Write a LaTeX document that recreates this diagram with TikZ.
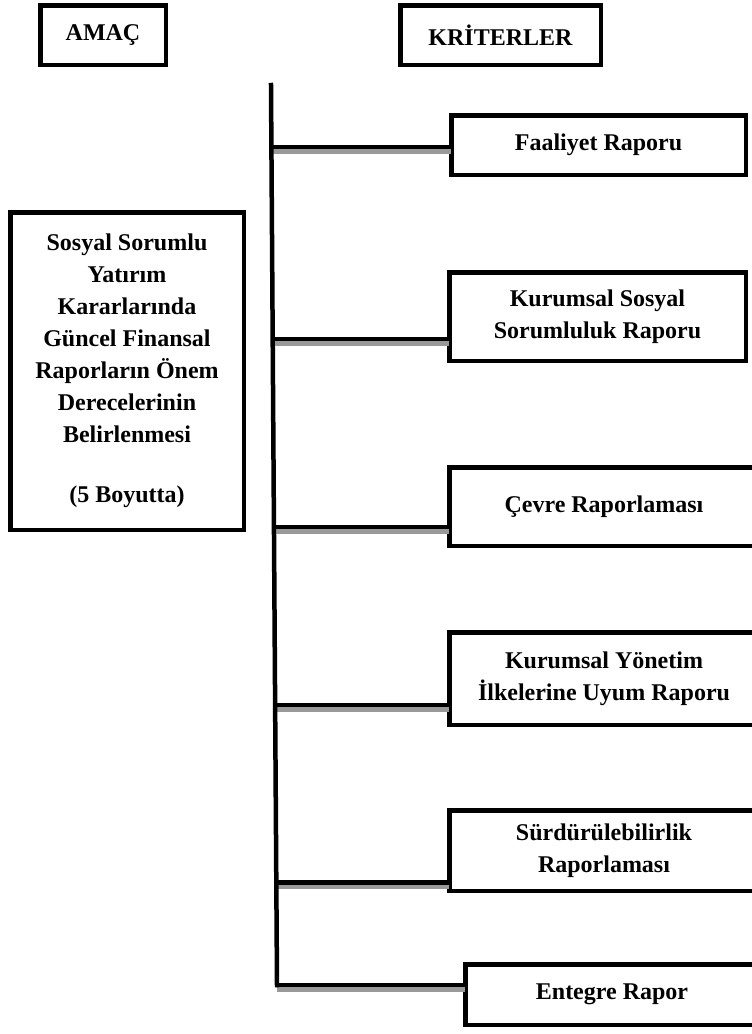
\documentclass[tikz,border=0pt]{standalone}
\usepackage{fontspec}
\setmainfont{Liberation Serif}
\usetikzlibrary{calc}

\begin{document}
\begin{tikzpicture}[x=1pt,y=-1pt,semithick,font=\fontsize{24}{32}\selectfont\bfseries]
          \tikzstyle{kutu}=[draw=black,line width=4.5pt,inner sep=0pt,outer sep=0pt,align=center]
          \tikzstyle{kol}=[draw=black,line width=4.5pt,preaction={draw=black!40,line width=4.5pt,transform canvas={yshift=-4.5pt}}]
          \useasboundingbox (0,0) rectangle (752,1034);
          \clip (0,0) rectangle (752,1034);

          % basliklar
          \node[kutu,minimum width=125.5,minimum height=59.5] (amac) at (103,35) {AMAÇ};
          \node[kutu,minimum width=200.5,minimum height=59.5] (krit) at (500.5,35) {KRİTERLER};

          % amac kutusu
          \node[kutu,minimum width=233.5,minimum height=317.5] (hedef) at (127,371)
               {Sosyal Sorumlu\\Yatırım\\Kararlarında\\Güncel Finansal\\Raporların Önem\\Derecelerinin\\Belirlenmesi\\[28pt](5 Boyutta)};

          % kriterler
          \node[kutu,minimum width=294.5,minimum height=59.5] (fr) at (598.5,145) {Faaliyet Raporu};
          \node[kutu,minimum width=296.5,minimum height=88.5] (ks) at (597.5,316.5) {Kurumsal Sosyal\\Sorumluluk Raporu};
          \node[kutu,minimum width=309.5,minimum height=78.5] (cr) at (604,506.5) {Çevre Raporlaması};
          \node[kutu,minimum width=309.5,minimum height=92.5] (ky) at (604,678.5) {Kurumsal Yönetim\\İlkelerine Uyum Raporu};
          \node[kutu,minimum width=309.5,minimum height=80.5] (sr) at (604,850.5) {Sürdürülebilirlik\\Raporlaması};
          \node[kutu,minimum width=293.5,minimum height=60.5] (er) at (612,994.5) {Entegre Rapor};

          % dikey cizgi
          \coordinate (top) at (271,85);
          \coordinate (bot) at (277,985);
          \coordinate (j1) at ($(top)!0.069!(bot)$);
          \coordinate (j2) at ($(top)!0.282!(bot)$);
          \coordinate (j3) at ($(top)!0.491!(bot)$);
          \coordinate (j4) at ($(top)!0.689!(bot)$);
          \coordinate (j5) at ($(top)!0.886!(bot)$);

          \draw[kol] (j1) -- (j1 -| fr.west);
          \draw[kol] (j2) -- (j2 -| ks.west);
          \draw[kol] (j3) -- (j3 -| cr.west);
          \draw[kol] (j4) -- (j4 -| ky.west);
          \draw[kol] (j5) -- (j5 -| sr.west);
          \draw[kol] (bot) -- (bot -| er.west);
          \draw[line width=4.5pt,line cap=rect] (top) -- (bot);
        \end{tikzpicture}
\end{document}
